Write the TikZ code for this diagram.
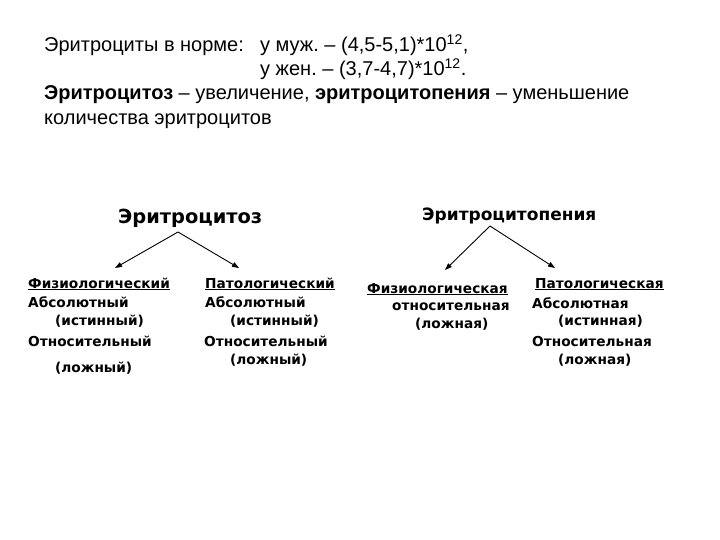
\documentclass[tikz,border=0pt]{standalone}
\usepackage{fontspec}
\setmainfont{Liberation Sans}
\newfontfamily\lowfont{DejaVu Sans}
\usetikzlibrary{arrows.meta}
\frenchspacing
\tikzset{
  toptxt/.style={anchor=base west, inner sep=0pt, font=\frenchspacing\fontsize{20}{22}\selectfont},
  head/.style={anchor=base west, inner sep=0pt, font=\lowfont\bfseries\fontsize{17}{20}\selectfont},
  item/.style={anchor=base west, inner sep=0pt, font=\lowfont\bfseries\fontsize{13.7}{15}\selectfont},
  arr/.style={line width=0.9pt, -{Triangle[length=7pt,width=5pt]}}
}
\begin{document}
\begin{tikzpicture}[x=1pt,y=-1pt]
\useasboundingbox (0,0) rectangle (720,540);
% top text
\node[toptxt] (t1) at (44,52) {Эритроциты в норме:};
\node[toptxt] (t1b) at (260,52) {у муж. – (4,5-5,1)*10\textsuperscript{12},};
\node[toptxt] (t2) at (260,76) {у жен. – (3,7-4,7)*10\textsuperscript{12}.};
\node[toptxt] (t3) at (44,100) {\textbf{Эритроцитоз} – увеличение, \textbf{эритроцитопения} – уменьшение};
\node[toptxt] (t4) at (44,125) {количества эритроцитов};
% left tree
\node[head, font=\lowfont\bfseries\fontsize{19.4}{22}\selectfont] (h1) at (118,223) {Эритроцитоз};
\coordinate (a1) at (178,232);
\coordinate (e11) at (115,268);
\coordinate (e12) at (239,268);
\draw[arr] (a1) -- (e11);
\draw[arr] (a1) -- (e12);
\node[item] (l1) at (28,288) {\underline{Физиологический}};
\node[item] (l2) at (28,307) {Абсолютный};
\node[item] (l3) at (55,325) {(истинный)};
\node[item] (l4) at (28,346) {Относительный};
\node[item] (l5) at (55,372) {(ложный)};
\node[item] (m1) at (205,288) {\underline{Патологический}};
\node[item] (m2) at (205,307) {Абсолютный};
\node[item] (m3) at (230,325) {(истинный)};
\node[item] (m4) at (204,346) {Относительный};
\node[item] (m5) at (230,364) {(ложный)};
% right tree
\node[head] (h2) at (422,221) {Эритроцитопения};
\coordinate (a2) at (490,226);
\coordinate (e21) at (445,270);
\coordinate (e22) at (555,268);
\draw[arr] (a2) -- (e21);
\draw[arr] (a2) -- (e22);
\node[item] (r1) at (367,293) {\underline{Физиологическая}};
\node[item] (r2) at (392,310) {относительная};
\node[item] (r3) at (415,328) {(ложная)};
\node[item] (s1) at (535,288) {\underline{Патологическая}};
\node[item] (s2) at (532,308) {Абсолютная};
\node[item] (s3) at (558,325) {(истинная)};
\node[item] (s4) at (532,346) {Относительная};
\node[item] (s5) at (558,364) {(ложная)};
\end{tikzpicture}
\end{document}
